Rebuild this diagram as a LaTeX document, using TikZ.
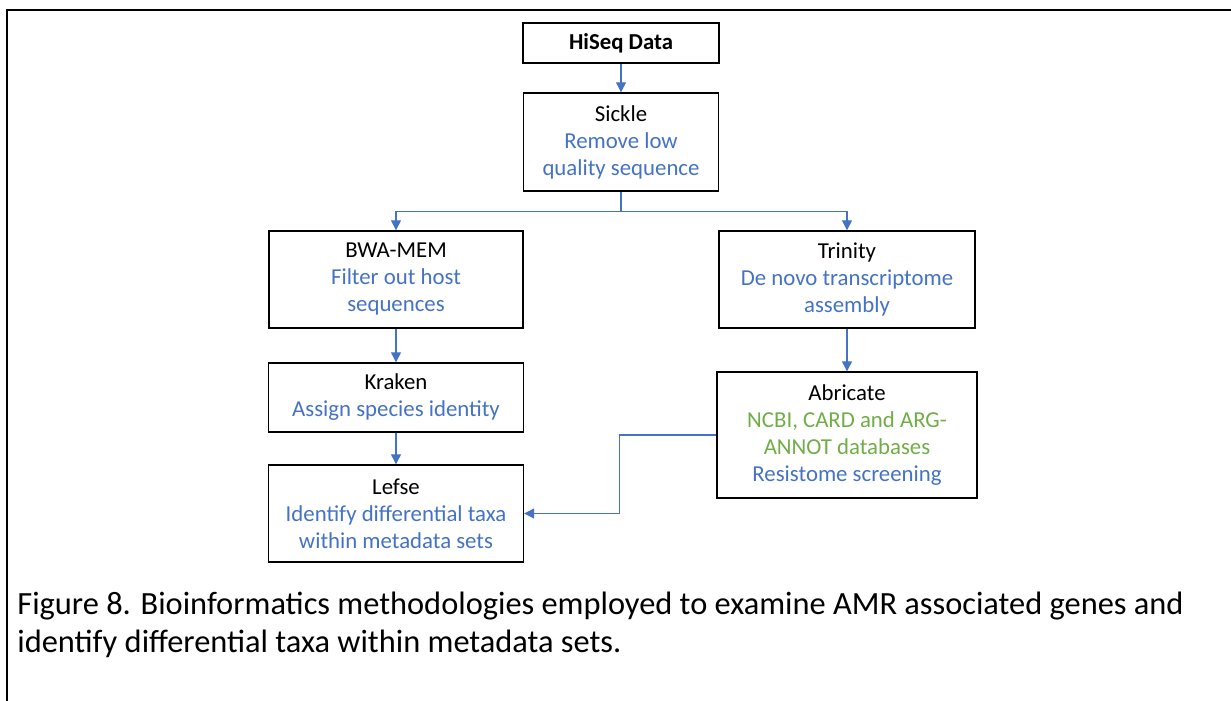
\documentclass[tikz,border=0pt]{standalone}
\usepackage{fontspec}
\setmainfont{Carlito}
\usepackage{tikz}
\usetikzlibrary{positioning,arrows.meta}

\definecolor{toolblue}{HTML}{4472C4}
\definecolor{dbgreen}{HTML}{70AD47}

\tikzset{
  stepbox/.style={draw, line width=0.7pt, align=center, inner sep=0pt,
    font=\fontsize{11.4}{13.5}\selectfont},
  flow/.style={draw=toolblue, line width=0.6pt, -{Triangle[length=5pt,width=5pt]}},
  link/.style={draw=toolblue, line width=0.6pt}
}

\begin{document}
\begin{tikzpicture}[x=0.5pt,y=-0.5pt,node distance=2cm,on grid]
	\useasboundingbox (0,0) rectangle (1231,701);
	\draw[line width=1.2pt] (7,701) -- (7,10) -- (1231,10);
	\node[stepbox,minimum width=98pt,minimum height=20pt] (hiseq) at (621,43) {\textbf{HiSeq Data}};
	\node[stepbox,minimum width=97.5pt,minimum height=49pt] (sickle) [below=49.5pt of hiseq]
		{Sickle\\ \textcolor{toolblue}{Remove low}\\ \textcolor{toolblue}{quality sequence}};
	\node[stepbox,minimum width=127pt,minimum height=48.5pt] (bwa) [below left=68.75pt and 112.5pt of sickle]
		{BWA-MEM\\ \textcolor{toolblue}{Filter out host}\\ \textcolor{toolblue}{sequences}};
	\node[stepbox,minimum width=128pt,minimum height=48.5pt] (trinity) [right=225.5pt of bwa]
		{Trinity\\ \textcolor{toolblue}{De novo transcriptome}\\ \textcolor{toolblue}{assembly}};
	\node[stepbox,minimum width=127.5pt,minimum height=34.5pt] (kraken) [below=59pt of bwa]
		{Kraken\\ \textcolor{toolblue}{Assign species identity}};
	\node[stepbox,minimum width=127.5pt,minimum height=48.5pt] (lefse) [below=58pt of kraken]
		{Lefse\\ \textcolor{toolblue}{Identify differential taxa}\\ \textcolor{toolblue}{within metadata sets}};
	\node[stepbox,minimum width=130pt,minimum height=63pt] (abricate) [below=77.75pt of trinity]
		{Abricate\\ \textcolor{dbgreen}{NCBI, CARD and ARG-}\\ \textcolor{dbgreen}{ANNOT databases}\\ \textcolor{toolblue}{Resistome screening}};
	\coordinate (split) at ([yshift=-10pt]sickle.south);
	% connectors
	\draw[flow] (hiseq) -- (sickle);
	\draw[link] (sickle) -- (split);
	\draw[flow] (split) -| (bwa);
	\draw[flow] (split) -| (trinity);
	\draw[flow] (bwa) -- (kraken);
	\draw[flow] (kraken) -- (lefse);
	\draw[flow] (trinity) -- (abricate);
	\draw[flow] (abricate.west) -- ++(-97,0) |- (lefse.east);
	% caption
	\node[anchor=north west,align=left,inner sep=0pt,font=\fontsize{16.2}{19}\selectfont] (caption) at (17,592)
		{Figure 8. Bioinformatics methodologies employed to examine AMR associated genes and\\
		 identify differential taxa within metadata sets.};
\end{tikzpicture}
\end{document}
